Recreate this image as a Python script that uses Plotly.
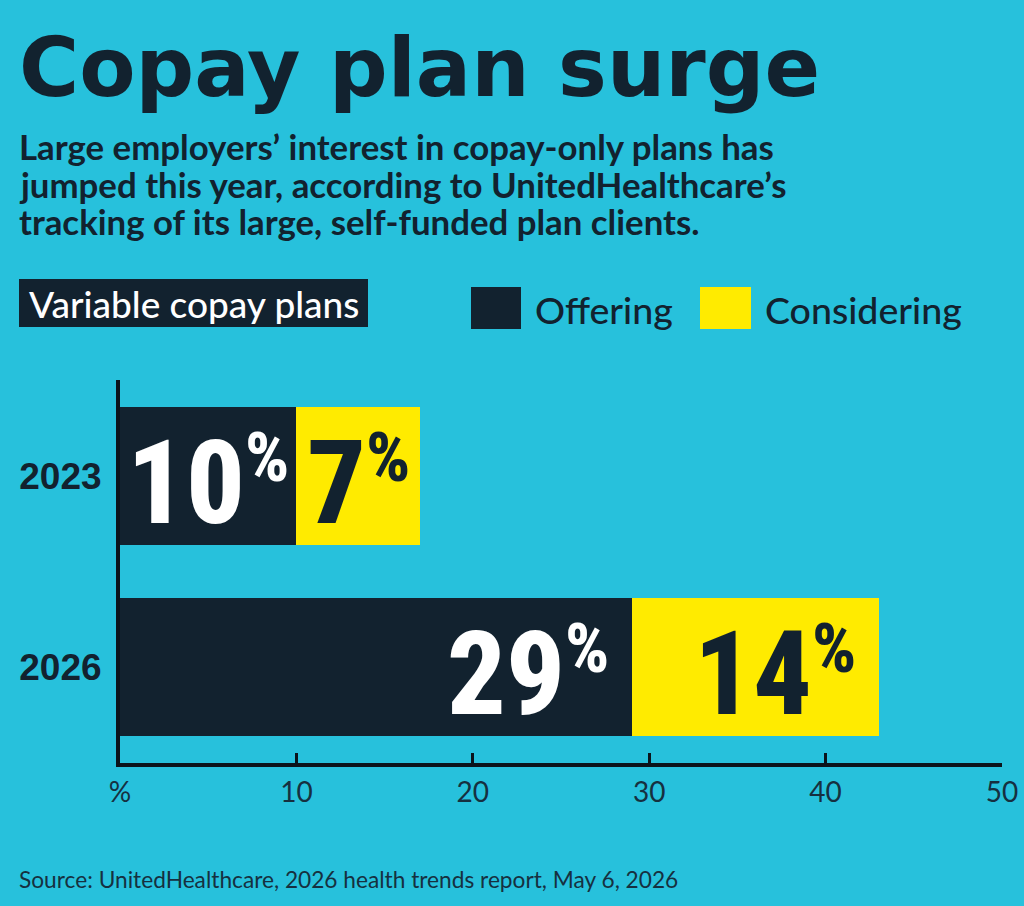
import plotly.graph_objects as go

# ---------------- data ----------------
years = ["2023", "2026"]
offering = [10, 29]
considering = [7, 14]
tick_vals = [0, 10, 20, 30, 40, 50]
tick_text = ["%", "10", "20", "30", "40", "50"]
label_anchor = ["center", "end"]  # where the % labels sit inside each year's segments

title = "Copay plan surge"
subtitle_lines = [
    "Large employers’ interest in copay-only plans has",
    "jumped this year, according to UnitedHealthcare’s",
    "tracking of its large, self-funded plan clients.",
]
panel_label = "Variable copay plans"
series_names = ["Offering", "Considering"]
source = "Source: UnitedHealthcare, 2026 health trends report, May 6, 2026"

# ---------------- style ----------------
BG = "#27C1DC"
DARK = "#12222F"
YELLOW = "#FFEB00"
W, H = 1024, 906
L, R, T, B = 120, 22, 380, 143
PW, PH = W - L - R, H - T - B


def px(x):
    return (x - L) / PW


def py(y):
    return (H - B - y) / PH


LATO = "Lato, 'Open Sans', sans-serif"
NUM = "'Roboto Condensed', 'Open Sans', 'Liberation Sans Narrow', sans-serif"

fig = go.Figure()
fig.add_trace(go.Bar(
    y=years, x=offering, orientation="h", name=series_names[0],
    marker=dict(color=DARK, line=dict(width=0)), width=0.72, showlegend=False,
))
fig.add_trace(go.Bar(
    y=years, x=considering, orientation="h", name=series_names[1],
    marker=dict(color=YELLOW, line=dict(width=0)), width=0.72, showlegend=False,
))

annotations = []
shapes = []

# value labels
F = 116
S = round(F * 0.857)
for i, yr in enumerate(years):
    segs = [(0, offering[i], "white"), (offering[i], offering[i] + considering[i], DARK)]
    for (a, b, col) in segs:
        val = b - a
        txt = (f"<span style='font-stretch:condensed'>{val}</span>"
               f"<span style='font-stretch:condensed;font-size:{S}px'><sup>%</sup></span>")
        if label_anchor[i] == "center":
            ax, xa, xs = (a + b) / 2, "center", 0
        else:
            ax, xa, xs = b, "right", -21
        annotations.append(dict(
            x=ax, y=i, xref="x", yref="y", text=txt, showarrow=False,
            xanchor=xa, yanchor="middle", xshift=xs, yshift=-7,
            font=dict(family=NUM, size=F, color=col, weight=800),
        ))

# title
annotations.append(dict(
    x=px(17), y=py(67), xref="paper", yref="paper", text=title, showarrow=False,
    xanchor="left", yanchor="middle",
    font=dict(family="'DejaVu Sans', sans-serif", size=82, color=DARK, weight=700),
))
# subtitle lines
for k, line in enumerate(subtitle_lines):
    annotations.append(dict(
        x=px(17), y=py(146 + 38 * k), xref="paper", yref="paper", text=line,
        showarrow=False, xanchor="left", yanchor="middle",
        font=dict(family=LATO, size=34.8, color=DARK, weight=700),
    ))

# panel label box
shapes.append(dict(type="rect", xref="paper", yref="paper",
                   x0=px(19), x1=px(368), y0=py(327), y1=py(279),
                   fillcolor=DARK, line=dict(width=0), layer="below"))
annotations.append(dict(
    x=px(194), y=py(303), xref="paper", yref="paper", text=panel_label,
    showarrow=False, xanchor="center", yanchor="middle",
    font=dict(family=LATO, size=37, color="white", weight=500),
))

# legend
legend_items = [(471, 521, DARK, 533), (700, 751, YELLOW, 763)]
for (x0, x1, col, tx), name in zip(legend_items, series_names):
    shapes.append(dict(type="rect", xref="paper", yref="paper",
                       x0=px(x0), x1=px(x1), y0=py(329), y1=py(287),
                       fillcolor=col, line=dict(width=0)))
    annotations.append(dict(
        x=px(tx), y=py(309), xref="paper", yref="paper", text=name,
        showarrow=False, xanchor="left", yanchor="middle",
        font=dict(family=LATO, size=37.5, color=DARK, weight=500),
    ))

# source
annotations.append(dict(
    x=px(17), y=py(879), xref="paper", yref="paper", text=source,
    showarrow=False, xanchor="left", yanchor="middle",
    font=dict(family=LATO, size=22.7, color="#163040", weight=400),
))

fig.update_layout(
    barmode="stack",
    width=W, height=H, autosize=False,
    margin=dict(l=L, r=R, t=T, b=B, pad=0, autoexpand=False),
    paper_bgcolor=BG, plot_bgcolor=BG,
    annotations=annotations, shapes=shapes,
    showlegend=False,
    bargap=0.28,
)
fig.update_xaxes(
    range=[0, 50], autorange=False, automargin=False,
    tickvals=tick_vals, ticktext=tick_text,
    showgrid=False, zeroline=False,
    showline=True, linecolor="#0b141b", linewidth=4,
    ticks="inside", ticklen=10, tickwidth=3, tickcolor="#0b141b",
    tickfont=dict(family=LATO, size=28, color="#163040"),
    ticklabelstandoff=1, fixedrange=True,
)
fig.update_yaxes(
    type="category", categoryorder="array", categoryarray=years,
    range=[1.5, -0.5], autorange=False, automargin=False,
    showgrid=False, zeroline=False,
    showline=True, linecolor="#0b141b", linewidth=4,
    ticks="", tickfont=dict(family="'Liberation Sans', Arial, sans-serif", size=37,
                            color=DARK, weight=700),
    ticklabelstandoff=7, fixedrange=True,
)

fig.write_html("out.html", config={"displayModeBar": False})
